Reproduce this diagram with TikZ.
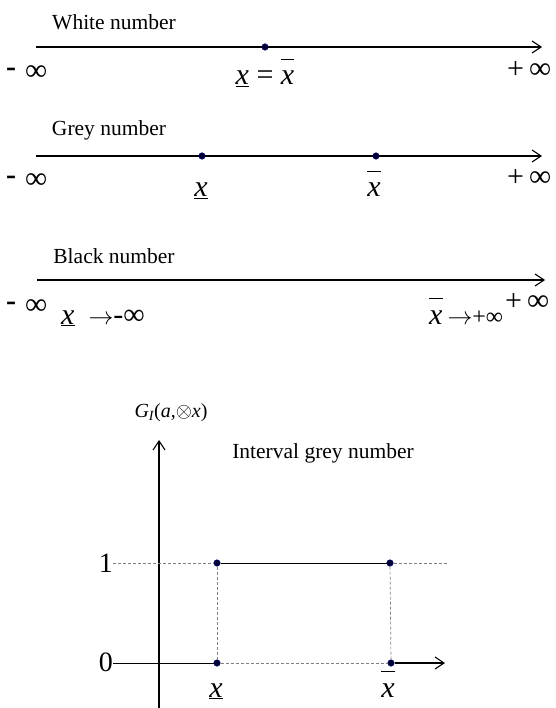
\documentclass[tikz,border=0pt]{standalone}
\usepackage{fontspec}
\setmainfont{Liberation Serif}
\usetikzlibrary{arrows.meta}

\newcommand{\xlo}{\underline{\itshape x}}
\newcommand{\xhi}{$\overline{\mbox{\itshape x}\rule{0pt}{0.8em}}$}
\newcommand{\infy}{{\fontsize{31}{34}\selectfont ∞}}
\newcommand{\minf}{\raisebox{4pt}{\bfseries -}\hspace{9pt}\infy}
\newcommand{\pinf}{+\hspace{5pt}\infy}

\begin{document}
\begin{tikzpicture}[x=1pt, y=-1pt,
  ttl/.style={font=\fontsize{21.5}{26}\selectfont, inner sep=0pt},
  mlbl/.style={font=\fontsize{30}{34}\selectfont, inner sep=0pt},
  numaxis/.style={line width=1.2pt, -{Straight Barb[length=9pt, width=12pt, line width=1.1pt]}},
  gdot/.style={circle, fill=black!80!blue, draw=blue!45!black, line width=0.5pt, inner sep=0pt, minimum size=6.5pt},
  guide/.style={gray, dash pattern=on 3pt off 2pt, line width=0.7pt}
]
\useasboundingbox (0,0) rectangle (555,708);

% white number: both ends meet
\node[ttl] (wtitle) at (114,22) {White number};
\coordinate (w0) at (36,47);
\coordinate (w1) at (542,47);
\draw[numaxis] (w0) -- (w1);
\node[gdot] (wx) at (265,47) {};
\node[mlbl, anchor=base west] (wminf) at (6,81) {\minf};
\node[mlbl, anchor=base west] (wpinf) at (507,79) {\pinf};
\node[mlbl, anchor=base] (wval) at (265,85) {\xlo\ =\ \xhi};

% grey number: lower and upper bound
\node[ttl] (gtitle) at (109,130) {Grey number};
\coordinate (g0) at (36,156);
\coordinate (g1) at (542,156);
\draw[numaxis] (g0) -- (g1);
\node[gdot] (glo) at (202,156) {};
\node[gdot] (ghi) at (376,156) {};
\node[mlbl, anchor=base west] (gminf) at (6,189) {\minf};
\node[mlbl, anchor=base west] (gpinf) at (507,187) {\pinf};
\node[mlbl, anchor=base] (glolbl) at (201,197) {\xlo};
\node[mlbl, anchor=base] (ghilbl) at (374,197) {\xhi};

% black number: no bounds
\node[ttl] (btitle) at (114,256) {Black number};
\coordinate (b0) at (37,280);
\coordinate (b1) at (545,280);
\draw[numaxis] (b0) -- (b1);
\node[mlbl, anchor=base west] (bminf) at (6,314) {\minf};
\node[mlbl, anchor=base west] (bpinf) at (505,310) {\pinf};
\node[mlbl, anchor=base west] (blolbl) at (61,324) {\xlo\hspace{14pt}$\rightarrow$-∞};
\node[mlbl, anchor=base west] (bhilbl) at (429,324)
  {\xhi\,$\rightarrow${\fontsize{24}{28}\selectfont +∞}};

% whitenization function of an interval grey number
\node[font=\fontsize{20}{24}\selectfont, inner sep=0pt] (gfun) at (171,413)
  {{\itshape G}\textsubscript{\itshape I}({\itshape a},$\otimes${\itshape x})};
\node[ttl] (ititle) at (323,453) {Interval grey number};
\coordinate (ybot) at (159,708);
\coordinate (ytop) at (159,440);
\draw[numaxis] (ybot) -- (ytop);

\node[font=\fontsize{28}{32}\selectfont, inner sep=0pt, anchor=east] (one) at (113,563) {1};
\node[font=\fontsize{28}{32}\selectfont, inner sep=0pt, anchor=east] (zero) at (113,662) {0};
\node[gdot] (lo1) at (217,563) {};
\node[gdot] (hi1) at (390,563) {};
\node[gdot] (lo0) at (217,663) {};
\node[gdot] (hi0) at (391,663) {};
\coordinate (xend) at (445,663);
\coordinate (rend) at (448,563);

\draw[guide] (one.east) -- (lo1);
\draw[line width=1pt] (lo1) -- (hi1);
\draw[guide] (hi1) -- (rend);
\draw[line width=1pt] (zero.east |- lo0) -- (lo0);
\draw[guide] (lo0) -- (hi0);
\draw[numaxis] (hi0) -- (xend);
\draw[guide] (lo1) -- (lo0);
\draw[guide] (hi1) -- (hi0);

\node[mlbl, anchor=base] (ilolbl) at (216,697) {\xlo};
\node[mlbl, anchor=base] (ihilbl) at (388,697) {\xhi};
\end{tikzpicture}
\end{document}
